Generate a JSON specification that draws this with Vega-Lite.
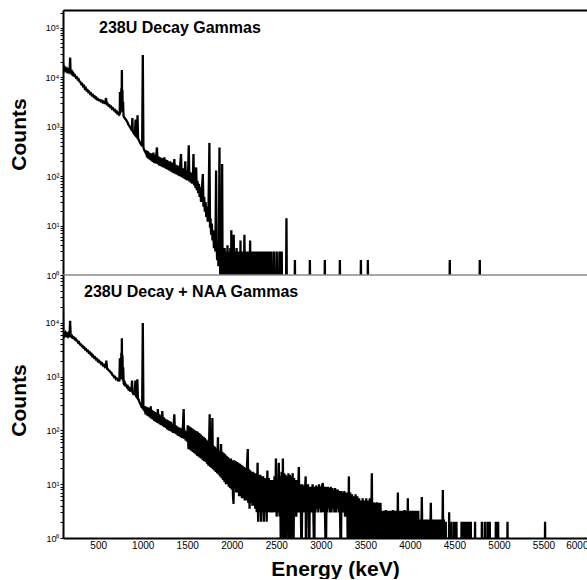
{
  "$schema": "https://vega.github.io/schema/vega-lite/v6.json",
  "padding": {"left": 8, "top": 8, "right": 0, "bottom": 0},
  "background": "white",
  "spacing": 0,
  "bounds": "flush",
  "config": {"view": {"stroke": null}, "font": "Liberation Sans", "concat": {"spacing": 0}},
  "datasets": {
    "top": [
      {"e":105,"c":20000},{"e":110,"c":14000},{"e":118,"c":15500},{"e":126,"c":14000},{"e":134,"c":15000},{"e":142,"c":13500},{"e":150,"c":14500},{"e":158,"c":13200},{"e":166,"c":14000},{"e":174,"c":12800},{"e":180,"c":13500},{"e":185,"c":25000},{"e":190,"c":12800},{"e":198,"c":12000},{"e":206,"c":12800},{"e":214,"c":11500},{"e":222,"c":12000},{"e":230,"c":10800},{"e":240,"c":11000},{"e":250,"c":9800},{"e":260,"c":10000},{"e":270,"c":9000},{"e":280,"c":9200},{"e":290,"c":8200},{"e":300,"c":8000},{"e":310,"c":7300},{"e":320,"c":7400},{"e":330,"c":6600},{"e":340,"c":6700},{"e":350,"c":5900},{"e":360,"c":6100},{"e":370,"c":5400},{"e":380,"c":5500},{"e":390,"c":5000},{"e":400,"c":5100},{"e":410,"c":4600},{"e":420,"c":4700},{"e":430,"c":4300},{"e":440,"c":4400},{"e":450,"c":4000},{"e":460,"c":4100},{"e":470,"c":3750},{"e":480,"c":3850},{"e":490,"c":3550},{"e":500,"c":3600},{"e":510,"c":3400},{"e":520,"c":3450},{"e":530,"c":3250},{"e":540,"c":3350},{"e":550,"c":3100},{"e":560,"c":3200},{"e":570,"c":3000},{"e":580,"c":3050},{"e":588,"c":3800},{"e":596,"c":2850},{"e":606,"c":2900},{"e":616,"c":2650},{"e":626,"c":2700},{"e":636,"c":2500},{"e":646,"c":2550},{"e":656,"c":2300},{"e":666,"c":2350},{"e":676,"c":2150},{"e":686,"c":2200},{"e":696,"c":2000},{"e":706,"c":2050},{"e":716,"c":1850},{"e":726,"c":1900},{"e":736,"c":1750},{"e":742,"c":1800},{"e":745,"c":5000},{"e":749,"c":1900},{"e":753,"c":3500},{"e":757,"c":2200},{"e":760,"c":6000},{"e":763,"c":2500},{"e":766,"c":14000},{"e":769,"c":2400},{"e":772,"c":5500},{"e":776,"c":2000},{"e":780,"c":3200},{"e":784,"c":1700},{"e":790,"c":1550},{"e":798,"c":1500},{"e":806,"c":1420},{"e":814,"c":1380},{"e":822,"c":1280},{"e":830,"c":1220},{"e":840,"c":1100},{"e":850,"c":1030},{"e":860,"c":960},{"e":870,"c":900},{"e":878,"c":840},{"e":884,"c":1500},{"e":888,"c":800},{"e":896,"c":760},{"e":904,"c":720},{"e":912,"c":690},{"e":920,"c":1400},{"e":926,"c":650},{"e":934,"c":620},{"e":942,"c":1700},{"e":948,"c":580},{"e":956,"c":540},{"e":964,"c":500},{"e":972,"c":470},{"e":980,"c":440},{"e":988,"c":420},{"e":994,"c":400},{"e":1001,"c":28000},{"e":1008,"c":380},{"e":1016,"c":340},{"e":1024,"c":320},{"e":1032,"c":300},
      {"e":1040,"c":330},{"e":1048,"c":240},{"e":1056,"c":320},{"e":1064,"c":225},{"e":1072,"c":300},{"e":1080,"c":215},{"e":1088,"c":290},{"e":1096,"c":205},{"e":1104,"c":285},{"e":1112,"c":195},{"e":1120,"c":300},{"e":1128,"c":185},{"e":1136,"c":270},{"e":1144,"c":180},{"e":1152,"c":260},{"e":1160,"c":380},{"e":1168,"c":175},{"e":1176,"c":250},{"e":1184,"c":165},{"e":1192,"c":240},{"e":1200,"c":160},{"e":1208,"c":235},{"e":1216,"c":155},{"e":1224,"c":230},{"e":1232,"c":150},{"e":1243,"c":240},{"e":1250,"c":145},{"e":1258,"c":215},{"e":1266,"c":140},{"e":1274,"c":210},{"e":1282,"c":135},{"e":1290,"c":200},{"e":1298,"c":130},{"e":1306,"c":200},{"e":1314,"c":125},{"e":1322,"c":190},{"e":1330,"c":120},{"e":1338,"c":185},{"e":1346,"c":115},{"e":1355,"c":220},{"e":1364,"c":112},{"e":1372,"c":170},{"e":1380,"c":108},{"e":1388,"c":165},{"e":1396,"c":104},{"e":1404,"c":160},{"e":1412,"c":100},{"e":1420,"c":155},{"e":1430,"c":280},{"e":1438,"c":95},{"e":1446,"c":145},{"e":1454,"c":92},{"e":1462,"c":140},{"e":1470,"c":88},{"e":1478,"c":200},{"e":1486,"c":85},{"e":1494,"c":130},{"e":1502,"c":82},{"e":1510,"c":125},{"e":1517,"c":420},{"e":1524,"c":78},{"e":1532,"c":120},{"e":1540,"c":74},{"e":1548,"c":115},{"e":1556,"c":70},{"e":1564,"c":110},{"e":1570,"c":280},{"e":1577,"c":65},{"e":1585,"c":100},{"e":1593,"c":58},{"e":1600,"c":150},{"e":1607,"c":52},{"e":1615,"c":80},{"e":1623,"c":45},{"e":1631,"c":70},{"e":1639,"c":38},{"e":1647,"c":60},{"e":1655,"c":30},{"e":1663,"c":50},{"e":1675,"c":110},{"e":1682,"c":24},{"e":1690,"c":38},{"e":1698,"c":19},{"e":1706,"c":30},{"e":1714,"c":15},{"e":1722,"c":24},{"e":1730,"c":12},{"e":1738,"c":18},{"e":1749,"c":470},{"e":1756,"c":9},{"e":1762,"c":14},{"e":1768,"c":6.5},{"e":1776,"c":11},{"e":1784,"c":5},{"e":1792,"c":8},{"e":1800,"c":3.5},{"e":1808,"c":7},{"e":1816,"c":3},{"e":1824,"c":130},{"e":1830,"c":4},{"e":1836,"c":2},{"e":1844,"c":4.5},{"e":1850,"c":1.5},{"e":1856,"c":4},{"e":1862,"c":380},{"e":1868,"c":2.5},{"e":1874,"c":0.3},{"e":1880,"c":3},{"e":1886,"c":0.3},{"e":1892,"c":175},{"e":1898,"c":0.3},{"e":1904,"c":3},
      {"e":1912,"c":0.3},{"e":1920,"c":3.5},{"e":1928,"c":0.3},{"e":1936,"c":3},{"e":1944,"c":0.3},{"e":1952,"c":4},{"e":1960,"c":0.3},{"e":1968,"c":3},{"e":1976,"c":0.3},{"e":1984,"c":3.5},{"e":1992,"c":0.3},{"e":1995,"c":8},{"e":1998,"c":0.3},{"e":2006,"c":3},{"e":2014,"c":0.3},{"e":2022,"c":6.5},{"e":2030,"c":0.3},{"e":2038,"c":3},{"e":2046,"c":0.3},{"e":2054,"c":3.5},{"e":2062,"c":0.3},{"e":2070,"c":3},{"e":2078,"c":0.3},{"e":2086,"c":3},{"e":2094,"c":0.3},{"e":2098,"c":5},{"e":2102,"c":0.3},{"e":2110,"c":3},{"e":2118,"c":0.3},{"e":2126,"c":3},{"e":2134,"c":0.3},{"e":2142,"c":6.5},{"e":2150,"c":0.3},{"e":2158,"c":3},{"e":2166,"c":0.3},{"e":2174,"c":3},{"e":2182,"c":0.3},{"e":2190,"c":3},{"e":2198,"c":0.3},{"e":2206,"c":5},{"e":2214,"c":0.3},{"e":2222,"c":3},{"e":2230,"c":0.3},{"e":2238,"c":3},{"e":2246,"c":0.3},{"e":2254,"c":3},{"e":2262,"c":0.3},{"e":2270,"c":3},{"e":2278,"c":0.3},{"e":2286,"c":3},{"e":2294,"c":0.3},{"e":2302,"c":3},{"e":2310,"c":0.3},{"e":2318,"c":3},{"e":2326,"c":0.3},{"e":2334,"c":3},{"e":2342,"c":0.3},{"e":2350,"c":3},{"e":2358,"c":0.3},{"e":2366,"c":3},{"e":2374,"c":0.3},{"e":2382,"c":3},{"e":2390,"c":0.3},{"e":2398,"c":3},{"e":2406,"c":0.3},{"e":2414,"c":3},{"e":2422,"c":0.3},{"e":2430,"c":3},{"e":2438,"c":0.3},{"e":2446,"c":3},{"e":2452,"c":0.3},
      {"e":2470,"c":0.3},{"e":2475,"c":3},{"e":2480,"c":0.3},{"e":2500,"c":0.3},{"e":2505,"c":3},{"e":2510,"c":0.3},{"e":2530,"c":0.3},{"e":2535,"c":3},{"e":2540,"c":0.3},{"e":2556,"c":0.3},{"e":2561,"c":3},{"e":2566,"c":0.3},{"e":2609,"c":0.3},{"e":2614,"c":14},{"e":2619,"c":0.3},{"e":2705,"c":0.3},{"e":2709,"c":2},{"e":2713,"c":0.3},{"e":2873,"c":0.3},{"e":2877,"c":2},{"e":2881,"c":0.3},{"e":3041,"c":0.3},{"e":3045,"c":2},{"e":3049,"c":0.3},{"e":3210,"c":0.3},{"e":3214,"c":2},{"e":3218,"c":0.3},{"e":3446,"c":0.3},{"e":3450,"c":2},{"e":3454,"c":0.3},{"e":3524,"c":0.3},{"e":3528,"c":2},{"e":3532,"c":0.3},{"e":4444,"c":0.3},{"e":4448,"c":2},{"e":4452,"c":0.3},{"e":4781,"c":0.3},{"e":4785,"c":2},{"e":4789,"c":0.3},{"e":6000,"c":0.3}
    ],
    "bot": [
      {"e":105,"c":21000},{"e":108,"c":5200},{"e":115,"c":6400},{"e":123,"c":6000},{"e":131,"c":6500},{"e":139,"c":5900},{"e":147,"c":6300},{"e":155,"c":5800},{"e":163,"c":6200},{"e":171,"c":5700},{"e":179,"c":6000},{"e":185,"c":11000},{"e":191,"c":5700},{"e":199,"c":5500},{"e":207,"c":5700},{"e":215,"c":5300},{"e":225,"c":5400},{"e":235,"c":5000},{"e":245,"c":5100},{"e":255,"c":4700},{"e":265,"c":4700},{"e":275,"c":4300},{"e":285,"c":4400},{"e":295,"c":4000},{"e":305,"c":4000},{"e":315,"c":3700},{"e":325,"c":3750},{"e":335,"c":3450},{"e":345,"c":3500},{"e":355,"c":3200},{"e":365,"c":3250},{"e":375,"c":3000},{"e":385,"c":3050},{"e":395,"c":2800},{"e":405,"c":2850},{"e":415,"c":2600},{"e":425,"c":2650},{"e":435,"c":2400},{"e":445,"c":2450},{"e":455,"c":2250},{"e":465,"c":2300},{"e":475,"c":2100},{"e":485,"c":2150},{"e":495,"c":1950},{"e":505,"c":2000},{"e":515,"c":1850},{"e":525,"c":1880},{"e":535,"c":1720},{"e":545,"c":1760},{"e":555,"c":1620},{"e":565,"c":1660},{"e":575,"c":1520},{"e":585,"c":1560},{"e":592,"c":2000},{"e":600,"c":1400},{"e":610,"c":1380},{"e":620,"c":1300},{"e":630,"c":1270},{"e":640,"c":1200},{"e":650,"c":1170},{"e":660,"c":1080},{"e":670,"c":1050},{"e":680,"c":980},{"e":690,"c":990},{"e":700,"c":900},{"e":710,"c":920},{"e":720,"c":860},{"e":730,"c":880},{"e":738,"c":820},{"e":744,"c":2200},{"e":748,"c":900},{"e":752,"c":2000},{"e":756,"c":950},{"e":760,"c":2800},{"e":763,"c":1000},{"e":766,"c":5200},{"e":769,"c":900},{"e":773,"c":2500},{"e":777,"c":850},{"e":781,"c":1500},{"e":786,"c":750},{"e":793,"c":720},{"e":800,"c":760},{"e":808,"c":690},{"e":816,"c":700},{"e":824,"c":640},{"e":832,"c":660},{"e":840,"c":590},{"e":848,"c":610},{"e":856,"c":560},{"e":864,"c":570},{"e":872,"c":530},{"e":880,"c":850},{"e":886,"c":510},{"e":894,"c":480},{"e":902,"c":490},{"e":910,"c":460},{"e":918,"c":850},{"e":924,"c":440},{"e":932,"c":420},{"e":940,"c":900},{"e":946,"c":390},{"e":954,"c":380},{"e":962,"c":340},{"e":970,"c":320},{"e":978,"c":300},{"e":986,"c":280},{"e":994,"c":260},{"e":1001,"c":10000},{"e":1008,"c":250},{"e":1016,"c":240},
      {"e":1024,"c":285},{"e":1032,"c":200},{"e":1040,"c":275},{"e":1048,"c":190},{"e":1056,"c":270},{"e":1064,"c":185},{"e":1072,"c":260},{"e":1080,"c":175},{"e":1090,"c":280},{"e":1098,"c":165},{"e":1106,"c":240},{"e":1114,"c":160},{"e":1122,"c":230},{"e":1130,"c":150},{"e":1138,"c":220},{"e":1146,"c":145},{"e":1154,"c":210},{"e":1162,"c":140},{"e":1170,"c":250},{"e":1178,"c":135},{"e":1186,"c":200},{"e":1194,"c":130},{"e":1202,"c":190},{"e":1210,"c":125},{"e":1220,"c":230},{"e":1228,"c":120},{"e":1236,"c":175},{"e":1244,"c":115},{"e":1252,"c":165},{"e":1260,"c":112},{"e":1268,"c":160},{"e":1276,"c":105},{"e":1284,"c":155},{"e":1292,"c":100},{"e":1300,"c":150},{"e":1308,"c":98},{"e":1316,"c":145},{"e":1324,"c":95},{"e":1332,"c":135},{"e":1340,"c":90},{"e":1348,"c":130},{"e":1355,"c":200},{"e":1362,"c":88},{"e":1370,"c":125},{"e":1378,"c":85},{"e":1386,"c":120},{"e":1394,"c":80},{"e":1402,"c":115},{"e":1410,"c":78},{"e":1418,"c":112},{"e":1426,"c":75},{"e":1434,"c":110},{"e":1442,"c":72},{"e":1450,"c":105},{"e":1460,"c":250},{"e":1466,"c":70},{"e":1474,"c":100},{"e":1482,"c":65},{"e":1490,"c":95},{"e":1498,"c":62},
      {"e":1506,"c":125},{"e":1514,"c":45},{"e":1522,"c":120},{"e":1530,"c":44},{"e":1538,"c":115},{"e":1546,"c":42},{"e":1554,"c":110},{"e":1562,"c":40},{"e":1570,"c":105},{"e":1578,"c":38},{"e":1586,"c":100},{"e":1594,"c":36},{"e":1602,"c":98},{"e":1610,"c":34},{"e":1618,"c":95},{"e":1626,"c":33},{"e":1634,"c":90},{"e":1642,"c":31},{"e":1650,"c":85},{"e":1658,"c":30},{"e":1666,"c":80},{"e":1674,"c":28},{"e":1682,"c":76},{"e":1690,"c":27},{"e":1698,"c":72},{"e":1706,"c":26},{"e":1714,"c":68},{"e":1722,"c":24},{"e":1730,"c":64},{"e":1738,"c":22},{"e":1746,"c":60},{"e":1752,"c":200},{"e":1758,"c":21},{"e":1766,"c":58},{"e":1774,"c":20},{"e":1782,"c":170},{"e":1788,"c":19},{"e":1796,"c":52},{"e":1804,"c":18},{"e":1812,"c":50},{"e":1820,"c":17},{"e":1828,"c":46},{"e":1836,"c":16},{"e":1845,"c":75},{"e":1852,"c":15},{"e":1860,"c":42},{"e":1868,"c":14},{"e":1880,"c":56},{"e":1886,"c":13},{"e":1894,"c":40},{"e":1902,"c":12},{"e":1910,"c":38},{"e":1918,"c":11},{"e":1926,"c":36},{"e":1934,"c":10},{"e":1942,"c":34},{"e":1950,"c":10},{"e":1958,"c":32},{"e":1966,"c":9},{"e":1974,"c":30},{"e":1982,"c":8.5},{"e":1990,"c":30},{"e":1998,"c":8},{"e":2006,"c":28},{"e":2014,"c":6},{"e":2020,"c":4.3},{"e":2026,"c":28},
      {"e":2034,"c":9},{"e":2042,"c":27},{"e":2050,"c":7},{"e":2058,"c":26},{"e":2066,"c":7},{"e":2074,"c":25},{"e":2082,"c":6},{"e":2090,"c":24},{"e":2098,"c":6},{"e":2106,"c":23},{"e":2114,"c":5.5},{"e":2122,"c":22},{"e":2130,"c":5.5},{"e":2138,"c":21},{"e":2146,"c":5},{"e":2154,"c":20},{"e":2162,"c":5},{"e":2170,"c":20},{"e":2180,"c":45},{"e":2186,"c":4.5},{"e":2194,"c":19},{"e":2200,"c":3.5},{"e":2208,"c":18},{"e":2216,"c":4.5},{"e":2224,"c":17},{"e":2232,"c":4},{"e":2240,"c":17},{"e":2248,"c":4},{"e":2256,"c":16},{"e":2264,"c":3.5},{"e":2272,"c":16},{"e":2280,"c":3},{"e":2290,"c":25},{"e":2296,"c":2},{"e":2304,"c":15},{"e":2312,"c":3},{"e":2320,"c":15},{"e":2328,"c":2},{"e":2336,"c":14},{"e":2344,"c":3},{"e":2352,"c":14},{"e":2360,"c":2},{"e":2368,"c":13},{"e":2376,"c":3},{"e":2384,"c":13},{"e":2392,"c":2},{"e":2400,"c":18},{"e":2408,"c":3},{"e":2416,"c":13},{"e":2424,"c":3},{"e":2432,"c":12},{"e":2440,"c":3},{"e":2448,"c":12},{"e":2456,"c":3},{"e":2464,"c":12},{"e":2472,"c":3},{"e":2480,"c":14},{"e":2488,"c":3},{"e":2496,"c":30},{"e":2504,"c":2.5},{"e":2512,"c":12},{"e":2520,"c":3},{"e":2528,"c":25},{"e":2536,"c":2.5},{"e":2544,"c":14},{"e":2552,"c":0.3},{"e":2560,"c":17},{"e":2568,"c":0.3},{"e":2574,"c":30},{"e":2580,"c":0.3},{"e":2588,"c":16},{"e":2596,"c":0.3},{"e":2604,"c":15},{"e":2612,"c":0.3},{"e":2620,"c":14},{"e":2628,"c":2},
      {"e":2636,"c":16},{"e":2644,"c":0.3},{"e":2652,"c":15},{"e":2660,"c":0.3},{"e":2668,"c":14},{"e":2676,"c":2},{"e":2684,"c":16},{"e":2692,"c":0.3},{"e":2700,"c":13},{"e":2708,"c":3},{"e":2716,"c":12},{"e":2724,"c":2.5},{"e":2732,"c":12},{"e":2740,"c":3},{"e":2748,"c":11},{"e":2753,"c":21},{"e":2760,"c":3},{"e":2768,"c":10},{"e":2776,"c":3.5},{"e":2784,"c":0.3},{"e":2792,"c":10},{"e":2800,"c":3.5},{"e":2808,"c":9.5},{"e":2816,"c":3},{"e":2824,"c":9},{"e":2830,"c":14},{"e":2833,"c":0.3},{"e":2840,"c":9},{"e":2848,"c":3.5},{"e":2856,"c":10},{"e":2864,"c":3},{"e":2870,"c":0.3},{"e":2876,"c":9},{"e":2884,"c":3.5},{"e":2892,"c":9},{"e":2900,"c":3},{"e":2908,"c":10},{"e":2916,"c":3.5},{"e":2926,"c":0.3},{"e":2932,"c":9},{"e":2940,"c":3},{"e":2948,"c":9.5},{"e":2956,"c":3.5},{"e":2964,"c":9},{"e":2972,"c":3},{"e":2980,"c":10},{"e":2988,"c":3.5},{"e":2996,"c":9},{"e":3004,"c":3},{"e":3012,"c":9},{"e":3023,"c":10.5},{"e":3030,"c":3},{"e":3038,"c":9},{"e":3046,"c":3.5},{"e":3057,"c":0.3},{"e":3064,"c":9},{"e":3072,"c":3},{"e":3080,"c":9},{"e":3088,"c":3.5},{"e":3096,"c":8.5},{"e":3104,"c":3},{"e":3112,"c":9},{"e":3120,"c":3},{"e":3128,"c":8.5},{"e":3136,"c":3.5},{"e":3144,"c":8},{"e":3152,"c":3},{"e":3160,"c":8.5},{"e":3168,"c":3},{"e":3176,"c":8},{"e":3184,"c":3.5},{"e":3192,"c":8},{"e":3200,"c":3},{"e":3208,"c":7.5},{"e":3216,"c":3},{"e":3225,"c":0.3},{"e":3232,"c":7.5},{"e":3240,"c":3},{"e":3248,"c":7},{"e":3256,"c":3},{"e":3264,"c":7.5},{"e":3272,"c":2.5},{"e":3280,"c":7},{"e":3288,"c":2.5},{"e":3296,"c":7},{"e":3304,"c":0.3},{"e":3315,"c":14},{"e":3322,"c":0.3},
      {"e":3330,"c":7},{"e":3340,"c":0.3},{"e":3350,"c":6.5},{"e":3360,"c":0.3},{"e":3370,"c":6},{"e":3380,"c":0.3},{"e":3390,"c":6.5},{"e":3400,"c":0.3},{"e":3410,"c":6},{"e":3420,"c":0.3},{"e":3430,"c":5.5},{"e":3440,"c":0.3},{"e":3450,"c":5},{"e":3460,"c":0.3},{"e":3470,"c":5.5},{"e":3480,"c":0.3},{"e":3490,"c":5},{"e":3500,"c":0.3},{"e":3510,"c":5.5},{"e":3520,"c":0.3},{"e":3530,"c":5},{"e":3540,"c":0.3},{"e":3550,"c":5.5},{"e":3560,"c":0.3},{"e":3573,"c":16},{"e":3580,"c":0.3},{"e":3590,"c":4.6},{"e":3600,"c":0.3},{"e":3610,"c":4.5},{"e":3620,"c":0.3},{"e":3630,"c":4.6},{"e":3640,"c":0.3},{"e":3650,"c":4.5},{"e":3660,"c":0.3},{"e":3670,"c":4.5},{"e":3680,"c":0.3},{"e":3690,"c":3.2},{"e":3700,"c":0.3},{"e":3710,"c":3.2},{"e":3720,"c":0.3},{"e":3730,"c":3.3},{"e":3740,"c":0.3},{"e":3750,"c":3.2},{"e":3760,"c":0.3},{"e":3770,"c":3.2},{"e":3780,"c":0.3},{"e":3790,"c":3.2},{"e":3800,"c":0.3},{"e":3810,"c":3.3},{"e":3820,"c":0.3},{"e":3830,"c":3.2},{"e":3840,"c":0.3},{"e":3850,"c":3.2},{"e":3858,"c":0.3},{"e":3865,"c":7},{"e":3872,"c":0.3},{"e":3880,"c":3.2},{"e":3890,"c":0.3},{"e":3900,"c":3.2},{"e":3910,"c":0.3},{"e":3920,"c":3.2},{"e":3930,"c":0.3},{"e":3940,"c":3.3},{"e":3950,"c":0.3},{"e":3960,"c":3.2},{"e":3970,"c":0.3},{"e":3977,"c":5.5},{"e":3984,"c":0.3},{"e":3994,"c":3.2},{"e":4004,"c":0.3},{"e":4014,"c":3.2},{"e":4024,"c":0.3},{"e":4034,"c":3.2},{"e":4044,"c":0.3},{"e":4054,"c":3.2},{"e":4064,"c":0.3},{"e":4074,"c":3.2},{"e":4084,"c":0.3},{"e":4094,"c":3.2},{"e":4104,"c":0.3},{"e":4114,"c":2.2},{"e":4124,"c":0.3},{"e":4134,"c":5.8},{"e":4144,"c":0.3},{"e":4154,"c":2.2},{"e":4164,"c":0.3},{"e":4174,"c":2.2},{"e":4184,"c":0.3},{"e":4194,"c":2.2},{"e":4204,"c":0.3},{"e":4214,"c":2.2},{"e":4224,"c":0.3},{"e":4235,"c":4.5},{"e":4244,"c":0.3},{"e":4254,"c":2.2},{"e":4264,"c":0.3},{"e":4274,"c":2.2},{"e":4284,"c":0.3},{"e":4294,"c":2.2},{"e":4304,"c":0.3},{"e":4314,"c":2.2},{"e":4324,"c":0.3},{"e":4334,"c":2.2},{"e":4344,"c":0.3},{"e":4354,"c":2.2},{"e":4362,"c":0.3},{"e":4370,"c":7.8},{"e":4376,"c":0.3},{"e":4382,"c":2.2},{"e":4388,"c":0.3},
      {"e":4400,"c":0.3},{"e":4403,"c":2},{"e":4406,"c":0.3},{"e":4438,"c":0.3},{"e":4441,"c":3},{"e":4444,"c":0.3},{"e":4465,"c":0.3},{"e":4468,"c":2},{"e":4471,"c":0.3},{"e":4494,"c":0.3},{"e":4497,"c":2},{"e":4500,"c":0.3},{"e":4520,"c":0.3},{"e":4523,"c":2},{"e":4526,"c":0.3},{"e":4577,"c":0.3},{"e":4580,"c":2},{"e":4583,"c":0.3},{"e":4599,"c":0.3},{"e":4602,"c":2},{"e":4605,"c":0.3},{"e":4625,"c":0.3},{"e":4628,"c":2},{"e":4631,"c":0.3},{"e":4644,"c":0.3},{"e":4647,"c":2},{"e":4650,"c":0.3},{"e":4662,"c":0.3},{"e":4665,"c":2},{"e":4668,"c":0.3},{"e":4681,"c":0.3},{"e":4684,"c":2},{"e":4687,"c":0.3},{"e":4729,"c":0.3},{"e":4732,"c":2},{"e":4735,"c":0.3},{"e":4805,"c":0.3},{"e":4808,"c":2},{"e":4811,"c":0.3},{"e":4838,"c":0.3},{"e":4841,"c":2},{"e":4844,"c":0.3},{"e":4868,"c":0.3},{"e":4871,"c":2},{"e":4874,"c":0.3},{"e":4894,"c":0.3},{"e":4897,"c":2},{"e":4900,"c":0.3},{"e":4962,"c":0.3},{"e":4965,"c":2},{"e":4968,"c":0.3},{"e":4988,"c":0.3},{"e":4991,"c":2},{"e":4994,"c":0.3},{"e":5093,"c":0.3},{"e":5096,"c":2},{"e":5099,"c":0.3},{"e":5515,"c":0.3},{"e":5518,"c":2},{"e":5521,"c":0.3},{"e":6000,"c":0.3}
    ]
  },
  "vconcat": [
    {
      "width": 525,
      "height": 265,
      "layer": [
        {
          "data": {"name": "top"},
          "mark": {"type": "line", "color": "black", "strokeWidth": 2.3, "clip": true},
          "encoding": {
            "x": {"field": "e", "type": "quantitative",
              "scale": {"domain": [105, 6000], "nice": false, "zero": false},
              "axis": {"orient": "top", "labels": false, "ticks": false, "domainColor": "black", "domainWidth": 2, "title": null, "grid": false}},
            "y": {"field": "c", "type": "quantitative",
              "scale": {"type": "log", "domain": [1, 229000], "nice": false},
              "axis": {"values": [1,2,3,4,5,6,7,8,9,10,20,30,40,50,60,70,80,90,100,200,300,400,500,600,700,800,900,1000,2000,3000,4000,5000,6000,7000,8000,9000,10000,20000,30000,40000,50000,60000,70000,80000,90000,100000,200000],
                "labelExpr": "abs(log(datum.value)/LN10 - round(log(datum.value)/LN10)) < 0.001 ? '10' + ['⁰','¹','²','³','⁴','⁵'][round(log(datum.value)/LN10)] : ''",
                "labelOverlap": false, "labelFontSize": 9, "labelColor": "black", "labelPadding": 1,
                "tickSize": 3, "tickColor": "black", "domainColor": "black", "domainWidth": 2, "grid": false,
                "title": "Counts", "titleFontSize": 21, "titleFontWeight": "bold", "titleColor": "black",
                "titleX": -44, "titleY": 124, "titleAngle": -90, "titleAlign": "center", "titleBaseline": "middle"}}
          }
        },
        {
          "data": {"values": [{}]},
          "mark": {"type": "rule", "color": "#8a8a8a", "strokeWidth": 1.5},
          "encoding": {"y": {"datum": 1}}
        },
        {
          "data": {"values": [{}]},
          "mark": {"type": "text", "align": "left", "baseline": "middle", "fontSize": 16, "fontWeight": "bold", "color": "black"},
          "encoding": {"x": {"datum": 509}, "y": {"datum": 100000}, "text": {"value": "238U Decay Gammas"}}
        }
      ]
    },
    {
      "width": 525,
      "height": 263,
      "layer": [
        {
          "data": {"name": "bot"},
          "mark": {"type": "line", "color": "black", "strokeWidth": 2.3, "clip": true},
          "encoding": {
            "x": {"field": "e", "type": "quantitative",
              "scale": {"domain": [105, 6000], "nice": false, "zero": false},
              "axis": {"values": [500,1000,1500,2000,2500,3000,3500,4000,4500,5000,5500,6000], "format": "d", "labelFlush": true,
                "labelFontSize": 10, "labelColor": "black", "labelPadding": 2, "ticks": false,
                "domainColor": "black", "domainWidth": 2, "grid": false,
                "title": "Energy (keV)", "titleFontSize": 21, "titleFontWeight": "bold", "titleColor": "black",
                "titlePadding": 8, "titleX": 272, "titleAlign": "center"}},
            "y": {"field": "c", "type": "quantitative",
              "scale": {"type": "log", "domain": [1, 78000], "nice": false},
              "axis": {"values": [1,2,3,4,5,6,7,8,9,10,20,30,40,50,60,70,80,90,100,200,300,400,500,600,700,800,900,1000,2000,3000,4000,5000,6000,7000,8000,9000,10000,20000,30000,40000,50000,60000,70000],
                "labelExpr": "abs(log(datum.value)/LN10 - round(log(datum.value)/LN10)) < 0.001 ? '10' + ['⁰','¹','²','³','⁴','⁵'][round(log(datum.value)/LN10)] : ''",
                "labelOverlap": false, "labelFontSize": 9, "labelColor": "black", "labelPadding": 1,
                "tickSize": 3, "tickColor": "black", "domainColor": "black", "domainWidth": 2, "grid": false,
                "title": "Counts", "titleFontSize": 21, "titleFontWeight": "bold", "titleColor": "black",
                "titleX": -44, "titleY": 125, "titleAngle": -90, "titleAlign": "center", "titleBaseline": "middle"}}
          }
        },
        {
          "data": {"values": [{}]},
          "mark": {"type": "text", "align": "left", "baseline": "middle", "fontSize": 16, "fontWeight": "bold", "color": "black"},
          "encoding": {"x": {"datum": 341}, "y": {"datum": 37700}, "text": {"value": "238U Decay + NAA Gammas"}}
        }
      ]
    }
  ]
}
